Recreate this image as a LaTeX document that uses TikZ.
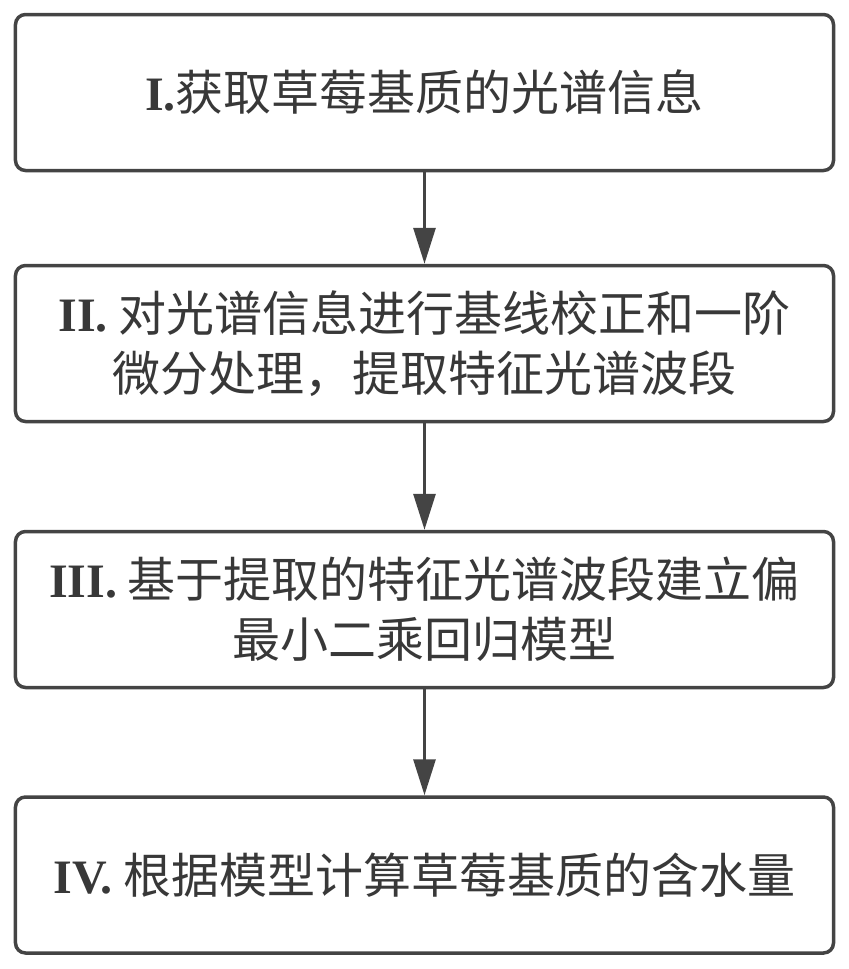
\documentclass[tikz,border=0pt]{standalone}
\usepackage{fontspec}
\setmainfont{Liberation Serif}
\newfontfamily\cjk{Noto Sans CJK SC}
\usetikzlibrary{arrows.meta}
\definecolor{boxline}{HTML}{444444}
\definecolor{steptext}{HTML}{383838}

\begin{document}
\begin{tikzpicture}[x=1bp, y=-1bp,
step box/.style   = {draw=boxline, line width=3.5bp, rounded corners=10bp,
                     minimum width=818bp, minimum height=156bp,
                     align=center, text=steptext, inner sep=0pt,
                     font=\fontsize{48bp}{60bp}\selectfont\cjk},
step arrow/.style = {draw=boxline, line width=3bp,
                     -{Triangle[width=22bp, length=36bp]}}
                   ]
\useasboundingbox (0,0) rectangle (849,969);
\node[step box] (s1) at (424.5,92.5)
    {{\rmfamily\bfseries I.}获取草莓基质的光谱信息};
\node[step box] (s2) at (424.5,343.5)
    {{\rmfamily\bfseries II.} 对光谱信息进行基线校正和一阶\\ 微分处理，提取特征光谱波段};
\node[step box] (s3) at (424.5,609.5)
    {{\rmfamily\bfseries III.} 基于提取的特征光谱波段建立偏\\ 最小二乘回归模型};
\node[step box] (s4) at (424.5,875)
    {{\rmfamily\bfseries IV.} 根据模型计算草莓基质的含水量};

\foreach \a/\b in {s1/s2, s2/s3, s3/s4}
    \draw[step arrow] (\a) -- (\b);

\end{tikzpicture}
\end{document}
